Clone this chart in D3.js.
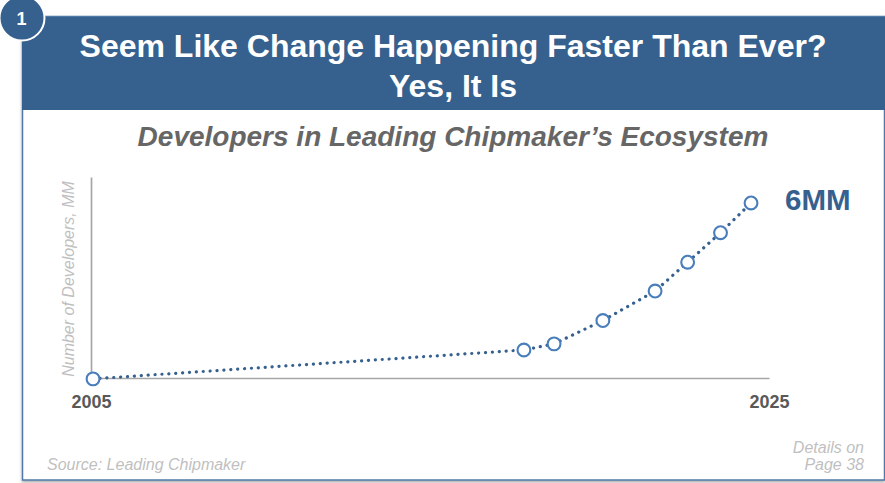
<!DOCTYPE html>
<html lang="en">
<head>
  <meta charset="utf-8">
  <title>Seem Like Change Happening Faster Than Ever? Yes, It Is</title>
  <script src="https://cdn.jsdelivr.net/npm/d3@7"></script>
  <style>
    html, body { margin: 0; padding: 0; background: #fff; }
    svg { display: block; }
    text { font-family: "Liberation Sans", Arial, sans-serif; }
    .axis path { stroke: #a6a6a6; stroke-width: 1.7px; }
    .axis text { font-family: "Liberation Sans", Arial, sans-serif; font-size: 18px; font-weight: bold; fill: #595959; }
  </style>
</head>
<body>
  <svg width="885" height="483"></svg>
  <script>
    // values
    var years = [2005.06, 2017.77, 2018.66, 2020.1, 2021.64, 2022.6, 2023.57, 2024.47];
    var developers = [-0.03, 0.96, 1.17, 1.97, 2.98, 3.97, 4.98, 6];
    var yearTicks = [2005, 2025];
    var titleLines = ["Seem Like Change Happening Faster Than Ever?", "Yes, It Is"];
    var detailLines = ["Details on", "Page 38"];

    var points = years.map(function (d, i) { return { year: d, value: developers[i] }; });

    var blue = "#36618f";
    var svg = d3.select("svg");

    var x = d3.scaleLinear().domain([2005, 2025]).range([91, 769]);
    var y = d3.scaleLinear().domain([0, 6.89]).range([378, 177]);

    // frame + header
    var shadow = svg.append("defs").append("filter").attr("id", "shadow")
      .attr("x", "-2%").attr("y", "-2%").attr("width", "104%").attr("height", "104%");
    shadow.append("feDropShadow").attr("dx", 0).attr("dy", 2).attr("stdDeviation", 1.5)
      .attr("flood-color", "#000").attr("flood-opacity", 0.3);

    svg.append("rect").attr("x", 22.5).attr("y", 16.5).attr("width", 862).attr("height", 463.5)
      .attr("fill", "#fff").attr("stroke", "#4f77a8").attr("stroke-width", 1.5)
      .attr("filter", "url(#shadow)");
    svg.append("rect").attr("x", 22).attr("y", 17).attr("width", 863).attr("height", 93)
      .attr("fill", blue);

    svg.append("circle").attr("cx", 22).attr("cy", 18).attr("r", 22.5)
      .attr("fill", blue).attr("stroke", "#fff").attr("stroke-width", 2);
    svg.append("text").attr("x", 21.5).attr("y", 25).attr("text-anchor", "middle")
      .attr("font-size", 18).attr("font-weight", "bold").attr("fill", "#fff").text("1");

    svg.selectAll(".title").data(titleLines).enter().append("text")
      .attr("class", "title")
      .attr("x", 453).attr("y", function (d, i) { return 57 + i * 39.5; })
      .attr("text-anchor", "middle").attr("font-size", 32).attr("font-weight", "bold")
      .attr("fill", "#fff").text(function (d) { return d; });

    svg.append("text").attr("x", 453).attr("y", 146).attr("text-anchor", "middle")
      .attr("font-size", 28).attr("font-weight", "bold").attr("font-style", "italic")
      .attr("fill", "#666").text("Developers in Leading Chipmaker\u2019s Ecosystem");

    // axes
    svg.append("g").attr("class", "axis")
      .attr("transform", "translate(0," + y(0) + ")")
      .call(d3.axisBottom(x).tickValues(yearTicks).tickFormat(d3.format("d")).tickSize(0).tickSizeOuter(0).tickPadding(17));
    svg.append("g").attr("class", "axis")
      .attr("transform", "translate(" + x(2005) + ",0)")
      .call(d3.axisLeft(y).tickValues([]).tickSize(0));

    svg.append("text")
      .attr("transform", "translate(73.5,279) rotate(-90)")
      .attr("text-anchor", "middle").attr("font-size", 16).attr("font-style", "italic")
      .attr("fill", "#bfbfbf").text("Number of Developers, MM");

    // line + markers
    var line = d3.line()
      .x(function (d) { return x(d.year); })
      .y(function (d) { return y(d.value); });

    svg.append("path").datum(points)
      .attr("d", line)
      .attr("fill", "none").attr("stroke", blue).attr("stroke-width", 3.2)
      .attr("stroke-linecap", "round").attr("stroke-dasharray", "0.1 6.8");

    svg.selectAll(".pt").data(points).enter().append("circle")
      .attr("class", "pt")
      .attr("cx", function (d) { return x(d.year); })
      .attr("cy", function (d) { return y(d.value); })
      .attr("r", 6.4)
      .attr("fill", "#fff").attr("stroke", "#4a7ebb").attr("stroke-width", 2.1);

    svg.append("text").attr("x", 785).attr("y", 210)
      .attr("font-size", 29.5).attr("font-weight", "bold").attr("fill", blue).text("6MM");

    // footer
    svg.append("text").attr("x", 47).attr("y", 470)
      .attr("font-size", 16).attr("font-style", "italic").attr("fill", "#bfbfbf")
      .text("Source: Leading Chipmaker");
    svg.selectAll(".details").data(detailLines).enter().append("text")
      .attr("class", "details")
      .attr("x", 864).attr("y", function (d, i) { return 453 + i * 17; })
      .attr("text-anchor", "end").attr("font-size", 16).attr("font-style", "italic")
      .attr("fill", "#bfbfbf").text(function (d) { return d; });
  </script>
</body>
</html>
